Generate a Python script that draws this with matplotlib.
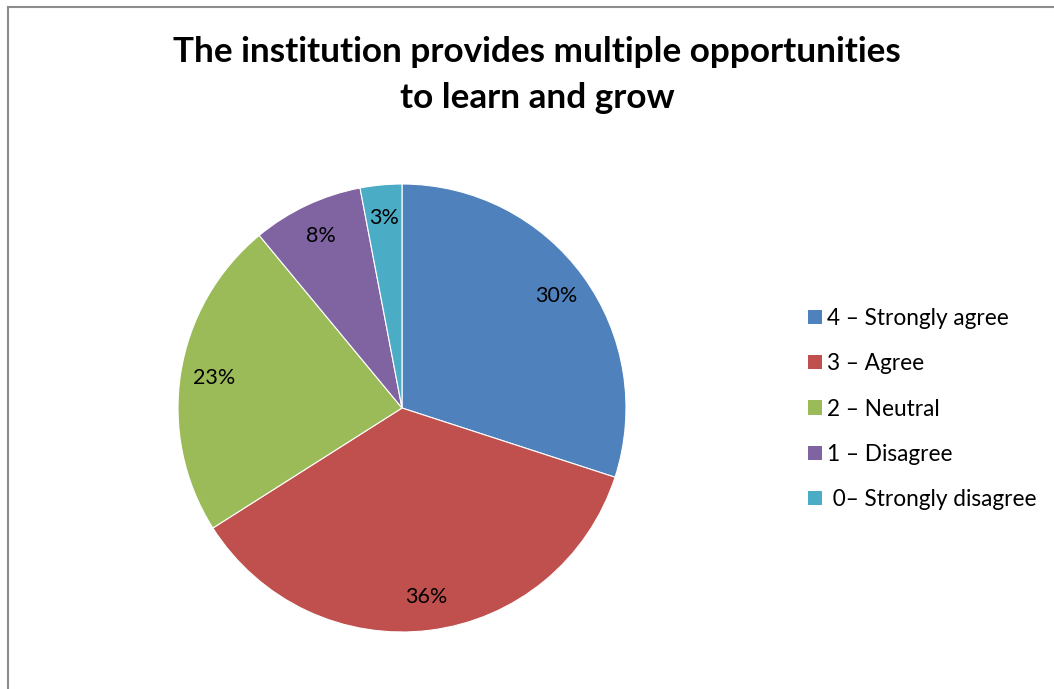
import matplotlib
matplotlib.use('Agg')
import matplotlib.pyplot as plt
from matplotlib.lines import Line2D
from matplotlib.patches import Patch

labels = ['4 – Strongly agree', '3 – Agree', '2 – Neutral', '1 – Disagree', ' 0– Strongly disagree']
values = [30, 36, 23, 8, 3]
colors = ['#4F81BD', '#C0504D', '#9BBB59', '#8064A2', '#4BACC6']

plt.rcParams['font.family'] = ['Lato', 'DejaVu Sans']

fig = plt.figure(figsize=(10.54, 6.89), dpi=100)
W, H = 1054, 689

# outer chart border (left and top edges visible)
fig.add_artist(Line2D([7.5/W, 7.5/W], [0, 1 - 6.5/H], color='#8c8c8c', lw=1.5))
fig.add_artist(Line2D([7.5/W, 1], [1 - 6.5/H, 1 - 6.5/H], color='#8c8c8c', lw=1.5))

cx, cy, r = 402, 408, 224
ax = fig.add_axes([(cx - r)/W, (H - cy - r)/H, 2*r/W, 2*r/H])
wedges, texts = ax.pie(values, colors=colors, startangle=90, counterclock=False,
                       labels=[f'{v}%' for v in values], labeldistance=0.85,
                       wedgeprops=dict(edgecolor='white', linewidth=0.8),
                       textprops=dict(fontsize=15.5, color='black', ha='center', va='center'))
ax.set_xlim(-1, 1)
ax.set_ylim(-1, 1)
ax.set_aspect('equal')

fig.text(537/W, 1 - 52/H, 'The institution provides multiple opportunities',
         ha='center', va='center', fontsize=25.3, fontweight='bold')
fig.text(537/W, 1 - 98/H, 'to learn and grow',
         ha='center', va='center', fontsize=25.3, fontweight='bold')

handles = [Patch(facecolor=c, edgecolor='none') for c in colors]
fig.legend(handles, labels, loc='upper left', bbox_to_anchor=(799/W, 1 - 299/H),
           frameon=False, fontsize=16.3, handlelength=0.6, handleheight=0.6,
           handletextpad=0.25, labelspacing=1.07, borderaxespad=0)

fig.savefig('out.png', dpi=100)
